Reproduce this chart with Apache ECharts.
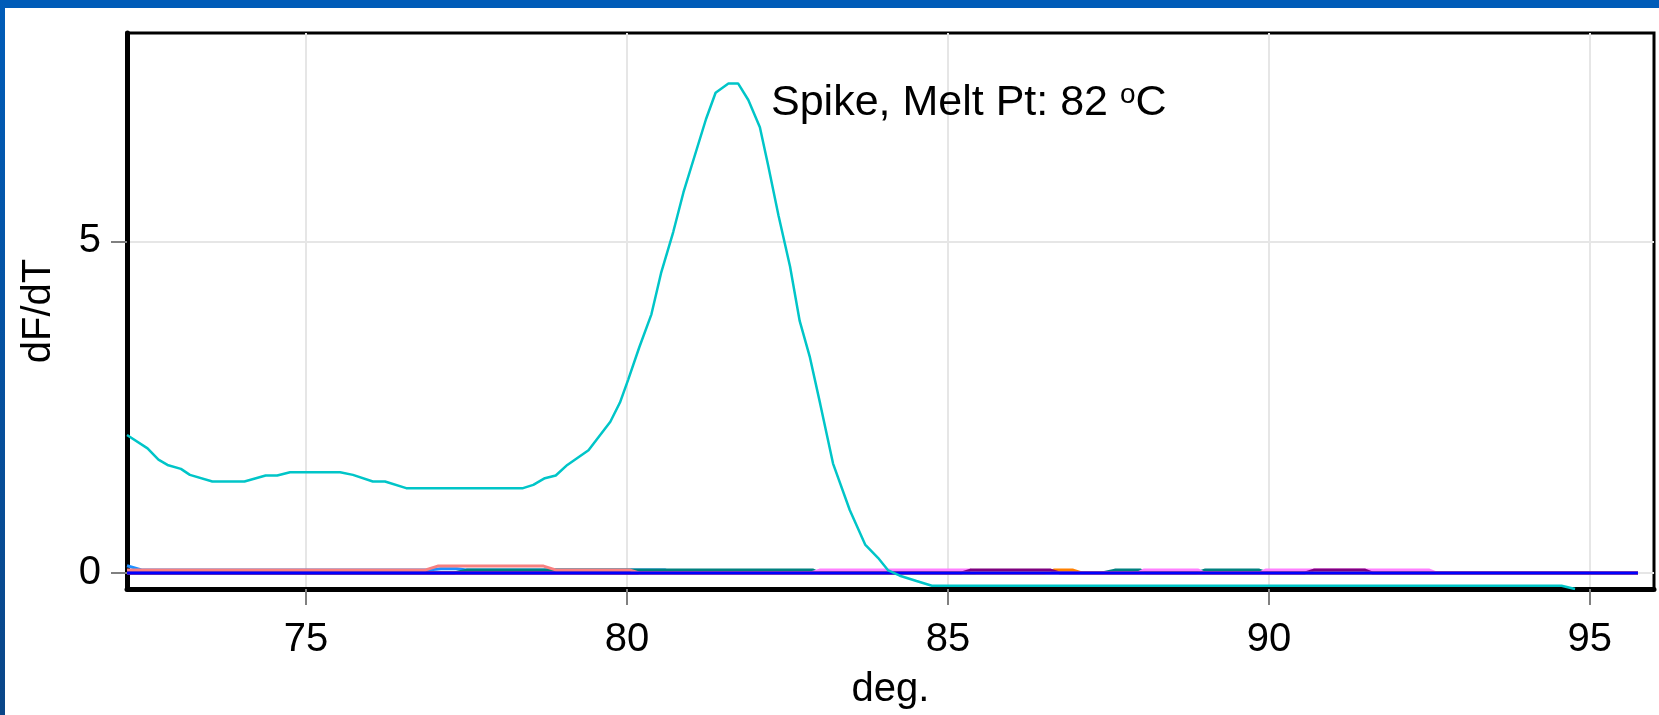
<!DOCTYPE html>
<html>
<head>
<meta charset="utf-8">
<script src="https://cdn.jsdelivr.net/npm/echarts@6/dist/echarts.min.js"></script>
<style>
html,body{margin:0;padding:0;background:#fff;}
#wrap{position:relative;width:1659px;height:715px;overflow:hidden;}
#chart{position:absolute;left:0;top:0;width:1659px;height:715px;}
#bt{position:absolute;left:0;top:0;width:1659px;height:8px;background:#005cb8;z-index:5;}
#bl{position:absolute;left:0;top:0;width:5px;height:715px;background:linear-gradient(#005cb8,#0a4688);z-index:5;}
</style>
</head>
<body>
<div id="wrap"><div id="chart"></div><div id="bt"></div><div id="bl"></div></div>
<script>
// Axis ranges and tick labels
var xRange = [72.21, 96.0];
var yRange = [-0.24, 8.14];
var xTickValues = [75, 80, 85, 90, 95];
var yTickValues = [0, 5];

// Spike (cyan) curve: temperature (deg.) and dF/dT
var spikeTemps = [72.21, 72.53, 72.70, 72.84, 73.05, 73.19, 73.54, 74.04, 74.37, 74.55, 74.75, 75.53, 75.73, 76.04, 76.23, 76.56,
  78.38, 78.54, 78.72, 78.89, 79.07, 79.40, 79.74, 79.89, 80.02, 80.19, 80.38, 80.53, 80.72, 80.88, 81.23, 81.38, 81.58, 81.73,
  81.89, 82.07, 82.20, 82.36, 82.54, 82.69, 82.85, 83.01, 83.21, 83.47, 83.71, 83.91, 84.07, 84.25, 84.51, 84.75, 94.56, 94.77];
var spikeValues = [2.08, 1.88, 1.71, 1.63, 1.57, 1.48, 1.38, 1.38, 1.47, 1.47, 1.52, 1.52, 1.48, 1.38, 1.38, 1.28,
  1.28, 1.33, 1.43, 1.47, 1.63, 1.85, 2.28, 2.57, 2.92, 3.40, 3.90, 4.52, 5.14, 5.74, 6.84, 7.24, 7.38, 7.38,
  7.13, 6.72, 6.14, 5.39, 4.62, 3.80, 3.25, 2.55, 1.65, 0.95, 0.43, 0.23, 0.04, -0.04, -0.12, -0.19, -0.19, -0.24];

// Near-zero curves (temperature, value pairs)
var dodgerTrace = [[72.21,0.11],[72.45,0.045],[76.9,0.045],[77.1,0.065],[77.35,0.065],[77.5,0.045],[80.6,0.045],[80.75,0],[95.75,0]];
var tealTrace = [[72.21,0],[77.3,0],[77.5,0.045],[82.9,0.045],[83.0,0],[87.4,0],[87.6,0.045],[88.0,0.045],[88.1,0],[88.85,0],[89.0,0.045],[89.85,0.045],[90.0,0],[95.75,0]];
var violetTrace = [[72.21,0],[82.85,0],[83.0,0.045],[85.35,0.045],[85.45,0],[87.95,0],[88.05,0.045],[88.9,0.045],[89.0,0],[89.85,0],[89.95,0.045],[92.5,0.045],[92.62,0],[95.75,0]];
var orangeTrace = [[72.21,0],[86.5,0],[86.65,0.045],[86.95,0.045],[87.1,0],[95.75,0]];
var purpleTrace = [[72.21,0],[85.2,0],[85.35,0.045],[86.6,0.045],[86.75,0],[90.55,0],[90.7,0.045],[91.5,0.045],[91.62,0],[95.75,0]];
var salmonTrace = [[72.21,0.045],[76.85,0.045],[77.05,0.105],[78.7,0.105],[78.9,0.045],[80.05,0.045],[80.2,0],[95.75,0]];
var baseTrace = [[72.21,0],[95.75,0]];

var annotationText = 'Spike, Melt Pt: 82 {sup|o}C';

var spikeData = spikeTemps.map(function (t, i) { return [t, spikeValues[i]]; });

function lineSeries(name, data, color, width) {
  return {
    name: name, type: 'line', data: data, showSymbol: false, symbol: 'none',
    lineStyle: { color: color, width: width }, itemStyle: { color: color },
    animation: false, silent: true, clip: true
  };
}

var font = 'Liberation Sans, Arial, sans-serif';
var chart = echarts.init(document.getElementById('chart'), null, { renderer: 'canvas' });
chart.setOption({
  backgroundColor: '#ffffff',
  animation: false,
  grid: { left: 127, right: 5, top: 33, bottom: 122, show: true, borderColor: '#000', borderWidth: 3, backgroundColor: 'transparent' },
  xAxis: {
    type: 'value', min: xRange[0], max: xRange[1], splitNumber: 5, minInterval: 5, maxInterval: 5,
    name: 'deg.', nameLocation: 'middle', nameGap: 81,
    nameTextStyle: { fontSize: 40, color: '#000', fontFamily: font },
    axisLine: { show: true, onZero: false, lineStyle: { color: '#000', width: 5 } },
    axisTick: { show: true, length: 16, customValues: xTickValues, lineStyle: { color: '#808080', width: 2 } },
    axisLabel: { customValues: xTickValues, fontSize: 40, color: '#000', margin: 31, fontFamily: font,
      formatter: function (v) { return Math.abs(v % 5) < 1e-6 ? String(Math.round(v)) : ''; } },
    splitLine: { show: true, lineStyle: { color: '#e6e6e6', width: 2 } }
  },
  yAxis: {
    type: 'value', min: yRange[0], max: yRange[1], splitNumber: 2, minInterval: 5, maxInterval: 5,
    name: 'dF/dT', nameLocation: 'middle', nameGap: 68,
    nameTextStyle: { fontSize: 40, color: '#000', fontFamily: font },
    axisLine: { show: true, onZero: false, lineStyle: { color: '#000', width: 5 } },
    axisTick: { show: true, length: 16, customValues: yTickValues, lineStyle: { color: '#808080', width: 2 } },
    axisLabel: { customValues: yTickValues, fontSize: 40, color: '#000', margin: 26, fontFamily: font,
      formatter: function (v) { return Math.abs(v % 5) < 1e-6 ? String(Math.round(v)) : ''; } },
    splitLine: { show: true, lineStyle: { color: '#e6e6e6', width: 2 } }
  },
  graphic: [{
    type: 'text', left: 771, top: 81, z: 100,
    style: {
      text: annotationText, fill: '#000', fontSize: 43, fontFamily: font,
      rich: { sup: { fontSize: 28, fontFamily: font, fill: '#000', verticalAlign: 'top', padding: [0, 0, 16, 0] } }
    }
  }],
  series: [
    lineSeries('s1', dodgerTrace, '#1e8fff', 3),
    lineSeries('s2', tealTrace, '#008080', 3),
    lineSeries('s3', violetTrace, '#ff80ff', 3),
    lineSeries('s4', orangeTrace, '#ff8000', 3),
    lineSeries('s5', purpleTrace, '#7f007f', 3),
    lineSeries('s6', salmonTrace, '#f88080', 3),
    lineSeries('s7', baseTrace, '#0000ff', 3),
    lineSeries('Spike', spikeData, '#00c5c8', 2.5)
  ]
});
</script>
</body>
</html>
